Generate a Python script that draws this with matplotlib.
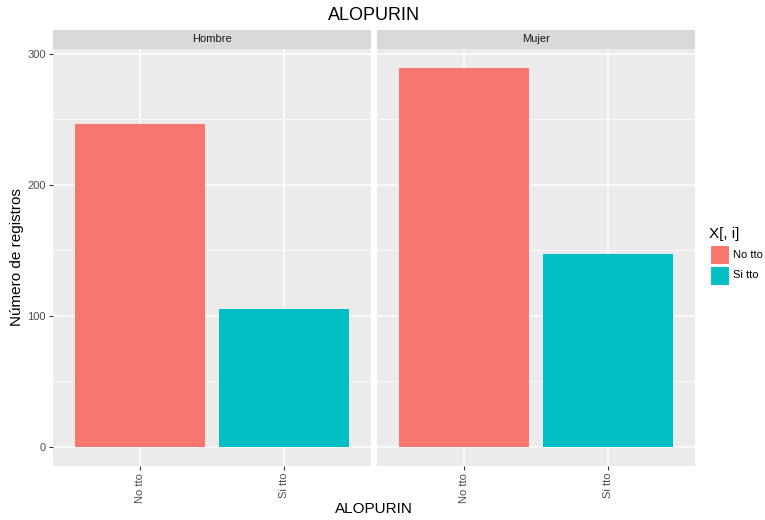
import matplotlib
matplotlib.use("Agg")
import matplotlib.pyplot as plt
from matplotlib.patches import Rectangle

plt.rcParams['font.family'] = ['Liberation Sans', 'DejaVu Sans']

# Data
categories = ["No tto", "Si tto"]
facets = ["Hombre", "Mujer"]
counts = {
    "Hombre": [246, 105],
    "Mujer": [289, 147],
}
colors = ["#F8766D", "#00BFC4"]
yticks = [0, 100, 200, 300]
yminor = [50, 150, 250]

W, H = 765, 520
fig = plt.figure(figsize=(W / 100, H / 100), dpi=100)
fig.patch.set_facecolor("white")


def px_axes(x0, y0, x1, y1):
    return fig.add_axes([x0 / W, 1 - y1 / H, (x1 - x0) / W, (y1 - y0) / H])


panel_bg = "#EBEBEB"
strip_bg = "#D9D9D9"
tick_col = "#4D4D4D"

ymax = max(max(v) for v in counts.values())
pad = 0.05 * ymax
ylim = (-pad, ymax + pad)

panels_x = [(53, 371), (377, 695)]
top, bottom, strip_top = 49, 466, 30

for i, (facet, (x0, x1)) in enumerate(zip(facets, panels_x)):
    ax = px_axes(x0, top, x1, bottom)
    ax.set_facecolor(panel_bg)
    xs = list(range(1, len(categories) + 1))
    ax.bar(xs, counts[facet], width=0.9, color=colors, zorder=3)
    ax.set_xlim(0.4, len(categories) + 0.6)
    ax.set_ylim(*ylim)
    for y in yminor:
        ax.axhline(y, color="white", lw=0.55, zorder=1)
    for y in yticks:
        ax.axhline(y, color="white", lw=1.1, zorder=1)
    for x in xs:
        ax.axvline(x, color="white", lw=1.1, zorder=1)
    for s in ax.spines.values():
        s.set_visible(False)
    ax.set_xticks(xs)
    ax.set_xticklabels(categories, rotation=90, color=tick_col, fontsize=8)
    ax.tick_params(axis="both", length=3, width=0.8, color="#333333", pad=2)
    if i == 0:
        ax.set_yticks(yticks)
        ax.set_yticklabels([str(v) for v in yticks], color=tick_col, fontsize=8)
    else:
        ax.set_yticks(yticks)
        ax.tick_params(axis="y", left=False, labelleft=False)

    sax = px_axes(x0, strip_top, x1, top)
    sax.set_facecolor(strip_bg)
    sax.set_xticks([])
    sax.set_yticks([])
    for s in sax.spines.values():
        s.set_visible(False)
    sax.text(0.5, 0.5, facet, ha="center", va="center", fontsize=8,
             color="#1A1A1A", transform=sax.transAxes)

fig.text(374 / W, 1 - 16 / H, "ALOPURIN", ha="center", va="center",
         fontsize=13, color="black")
fig.text(374 / W, 1 - 509 / H, "ALOPURIN", ha="center", va="center",
         fontsize=11, color="black")
fig.text(17 / W, 1 - 257 / H, "Número de registros", ha="center",
         va="center", rotation=90, fontsize=11, color="black")

# Legend
fig.text(709 / W, 1 - 234 / H, "X[, i]", ha="left", va="center",
         fontsize=11, color="black")
key_y = [245, 266]
for c, lab, ky in zip(colors, categories, key_y):
    fig.patches.append(Rectangle((710 / W, 1 - (ky + 19) / H), 19 / W,
                                 19 / H, transform=fig.transFigure,
                                 facecolor=c, edgecolor="white", lw=0.8))
    fig.text(733 / W, 1 - (ky + 9.5) / H, lab, ha="left", va="center",
             fontsize=8, color="black")

fig.savefig("out.png", dpi=100)
